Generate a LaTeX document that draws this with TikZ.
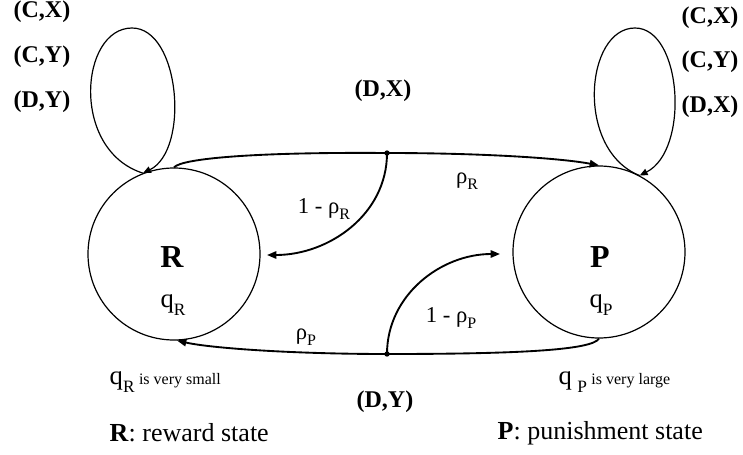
\documentclass[tikz,border=0pt]{standalone}
\usepackage{fontspec}
\setmainfont{Liberation Serif}
\usetikzlibrary{arrows.meta}
\newcommand{\lsub}[2][13]{\raisebox{-0.6ex}{\fontsize{#1}{#1}\selectfont #2}}

\begin{document}
\begin{tikzpicture}[
    x=0.75pt, y=-0.75pt,
    statecirc/.style={circle, draw, line width=0.9pt, minimum size=129pt, inner sep=0pt},
    statename/.style={font=\fontsize{24}{26}\selectfont\bfseries},
    qlabel/.style={font=\fontsize{20}{22}\selectfont},
    actlabel/.style={font=\fontsize{18}{20}\selectfont\bfseries},
    problabel/.style={font=\fontsize{17}{19}\selectfont},
    note/.style={font=\fontsize{20}{22}\selectfont, anchor=west},
    legend/.style={font=\fontsize{19.5}{22}\selectfont, anchor=west},
    arrow/.style={-{Triangle[length=7pt,width=5.5pt]}, line width=1.4pt},
    selfloop/.style={-{Triangle[length=6pt,width=5pt]}, line width=0.9pt},
    dot/.style={circle, fill, inner sep=0pt, minimum size=4pt}
]
\useasboundingbox (0,0) rectangle (743,454);

% States
\node[statecirc] (R) at (174,254) {};
\node[statecirc] (P) at (599,252) {};
\node[statename] (Rname) at (172,257) {R};
\node[statename] (Pname) at (600,257) {P};
\node[qlabel] (qR) at (173,305) {q\lsub{R}};
\node[qlabel] (qP) at (601,305) {q\lsub{P}};

% Branch points
\node[dot] (dX) at (387,153) {};
\node[dot] (dY) at (387,354) {};
\coordinate (Rin) at (267,255);
\coordinate (Pin) at (500,254);

% Self loops
\draw[selfloop] (R.111) .. controls (70,150) and (80,28) .. (132,28) .. controls (180,28) and (190,150) .. (R.111);
\draw[selfloop] (P.62) .. controls (575,150) and (585,28) .. (635,28) .. controls (682,28) and (690,150) .. (P.62);

% Transitions
\draw[arrow] (R.north) .. controls (182,158) and (260,152) .. (dX.center) .. controls (480,153) and (560,158) .. (P.north);
\draw[arrow] (dX.center) to[out=-90, in=0] (Rin);
\draw[arrow] (P.south) .. controls (592,350) and (520,354) .. (dY.center) .. controls (290,354) and (210,348) .. (R.-88);
\draw[arrow] (dY.center) to[out=90, in=180] (Pin);

% Action labels
\node[actlabel] (lcx) at (42,12) {(C,X)};
\node[actlabel] (lcy) at (42,57) {(C,Y)};
\node[actlabel] (ldy) at (42,102) {(D,Y)};
\node[actlabel] (rcx) at (710,18) {(C,X)};
\node[actlabel] (rcy) at (710,62) {(C,Y)};
\node[actlabel] (rdx) at (710,107) {(D,X)};
\node[actlabel] (tdx) at (383,91) {(D,X)};
\node[actlabel] (bdy) at (385,402) {(D,Y)};

% Probabilities
\node[problabel] (pR) at (467,181) {ρ\lsub[12]{R}};
\node[problabel] (qmR) at (324,209) {1 - ρ\lsub[12]{R}};
\node[problabel] (pP) at (306,337) {ρ\lsub[12]{P}};
\node[problabel] (qmP) at (451,318) {1 - ρ\lsub[12]{P}};

% Notes
\node[note] (nR) at (105,382) {q\lsub{R}\,{\fontsize{12}{13}\selectfont is very small}};
\node[note] (nP) at (554,382) {q\hspace{4pt}\lsub{P}\,{\fontsize{12}{13}\selectfont is very large}};
\node[legend] (lgR) at (105,433) {\textbf{R}: reward state};
\node[legend] (lgP) at (493,433) {\textbf{P}: punishment state};

\end{tikzpicture}
\end{document}
